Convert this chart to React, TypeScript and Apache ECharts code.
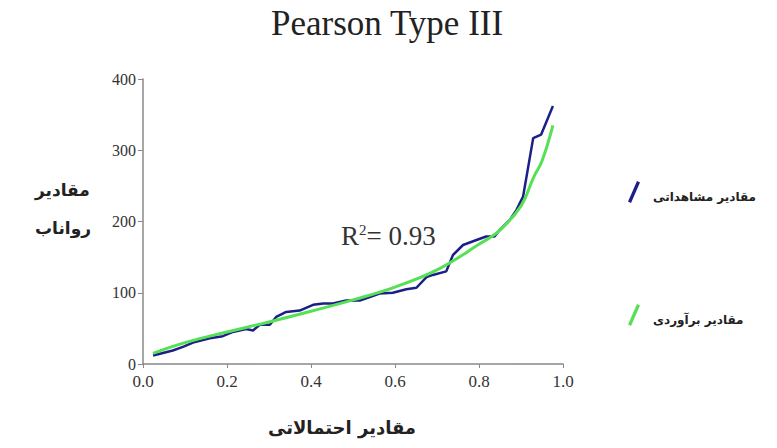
import React, { useEffect, useRef } from "react";
import * as echarts from "echarts";

const observedX = [0.024, 0.071, 0.095, 0.119, 0.159, 0.19, 0.214, 0.246, 0.262, 0.278, 0.302, 0.317, 0.341, 0.373, 0.405, 0.429, 0.452, 0.484, 0.516, 0.54, 0.563, 0.595, 0.627, 0.651, 0.675, 0.69, 0.722, 0.738, 0.762, 0.794, 0.817, 0.837, 0.849, 0.873, 0.889, 0.905, 0.929, 0.948, 0.976];
const observedY = [12, 19, 24, 30, 36, 39, 45, 49, 47, 55, 55, 66, 73, 75, 83, 85, 85, 89, 89, 94, 99, 100, 105, 107, 122, 125, 130, 153, 167, 174, 179, 179, 188, 202, 216, 235, 317, 322, 362];
const fittedX = [0.024, 0.1, 0.2, 0.3, 0.4, 0.5, 0.6, 0.7, 0.8, 0.85, 0.9, 0.93, 0.95, 0.976];
const fittedY = [15, 30, 45, 59, 74, 90, 108, 132, 168, 188, 222, 262, 285, 335];
const xTicks = ["0.0", "0.2", "0.4", "0.6", "0.8", "1.0"];
const seriesNames = ["مقادیر مشاهداتی", "مقادیر برآوردی"];

export default function App() {
  const ref = useRef<HTMLDivElement>(null);
  useEffect(() => {
    document.body.style.margin = "0";
    const chart = echarts.init(ref.current!, null, { renderer: "svg" });
    const arabicFont = "DejaVu Sans";
    const serif = "Liberation Serif";
    chart.setOption({
      animation: false,
      backgroundColor: "#ffffff",
      title: {
        text: "Pearson Type III",
        left: 266,
        top: 1,
        textStyle: { fontFamily: serif, fontSize: 35, fontWeight: "normal", color: "#222" },
      },
      grid: { left: 143, right: 214, top: 79, bottom: 84 },
      legend: {
        orient: "vertical",
        left: 623,
        top: 176,
        itemGap: 101,
        itemWidth: 12,
        itemHeight: 22,
        formatter: (name: string) => "{a|" + name + "}",
        data: [
          { name: seriesNames[0], icon: "path://M9,0 L12,1.5 L3,22 L0,20.5 Z", itemStyle: { color: "#1c2086" } },
          { name: seriesNames[1], icon: "path://M9,0 L12,1.5 L3,22 L0,20.5 Z", itemStyle: { color: "#55e055" } },
        ],
        textStyle: {
          fontFamily: arabicFont,
          fontSize: 12,
          fontWeight: "bold",
          color: "#222",
          rich: {
            a: { fontFamily: arabicFont, fontSize: 12, fontWeight: "bold", color: "#222", padding: [10, 0, 0, 8] },
          },
        },
      },
      xAxis: {
        type: "value",
        min: 0,
        max: 1,
        interval: 0.2,
        axisLine: { lineStyle: { color: "#888", width: 1.5 } },
        axisTick: { show: true, length: 4, inside: false, lineStyle: { color: "#888" } },
        splitLine: { show: false },
        axisLabel: {
          fontFamily: serif,
          fontSize: 17,
          color: "#333",
          margin: 9,
          formatter: (v: number) => xTicks[Math.round(v / 0.2)] ?? "",
        },
      },
      yAxis: {
        type: "value",
        min: 0,
        max: 400,
        interval: 100,
        axisLine: { show: true, lineStyle: { color: "#888", width: 1.5 } },
        axisTick: { show: true, length: 5, lineStyle: { color: "#888" } },
        splitLine: { show: false },
        axisLabel: { fontFamily: serif, fontSize: 16, color: "#333", margin: 7 },
      },
      graphic: [
        {
          type: "text",
          left: 35,
          top: 171,
          style: {
            text: "مقادیر\nرواناب",
            fontFamily: arabicFont,
            fontSize: 17,
            fontWeight: "bold",
            fill: "#222",
            align: "center",
            lineHeight: 38,
          },
        },
        {
          type: "text",
          left: 268,
          top: 418,
          style: {
            text: "مقادیر احتمالاتی",
            fontFamily: arabicFont,
            fontSize: 18,
            fontWeight: "bold",
            fill: "#222",
          },
        },
        {
          type: "text",
          left: 341,
          top: 222,
          style: {
            text: "{r|R}{s|2}{r|= 0.93}",
            rich: {
              r: { fontFamily: serif, fontSize: 27, fill: "#333", verticalAlign: "bottom" },
              s: { fontFamily: serif, fontSize: 15, fill: "#333", verticalAlign: "top", padding: [0, 0, 12, 0] },
            },
          },
        },
      ],
      series: [
        {
          name: seriesNames[0],
          type: "line",
          data: observedX.map((x, i) => [x, observedY[i]]),
          showSymbol: false,
          lineStyle: { color: "#1c2086", width: 2.5 },
          itemStyle: { color: "#1c2086" },
          z: 2,
        },
        {
          name: seriesNames[1],
          type: "line",
          smooth: 0.4,
          data: fittedX.map((x, i) => [x, fittedY[i]]),
          showSymbol: false,
          lineStyle: { color: "#55e055", width: 3 },
          itemStyle: { color: "#55e055" },
          z: 3,
        },
      ],
    });
    return () => chart.dispose();
  }, []);
  return <div ref={ref} style={{ width: 777, height: 448 }} />;
}
